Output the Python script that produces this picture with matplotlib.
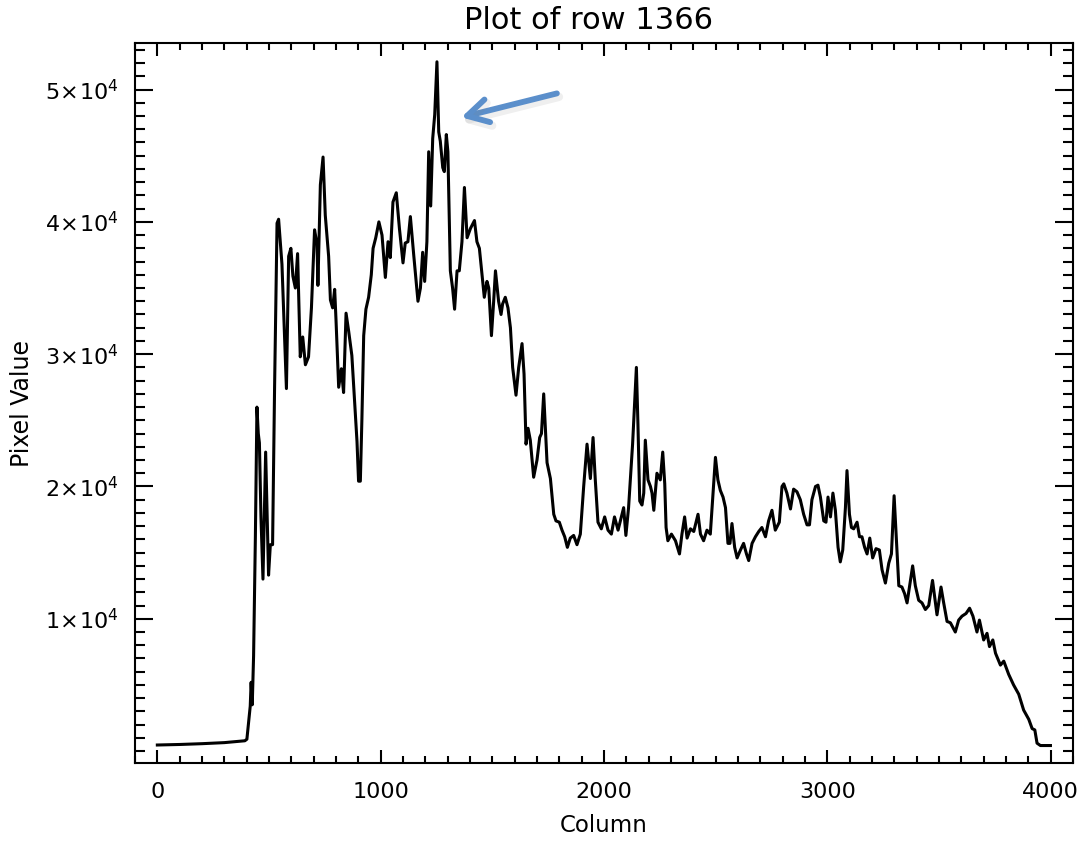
import matplotlib
matplotlib.use("Agg")
import matplotlib.pyplot as plt
import matplotlib.patheffects as pe
from matplotlib.ticker import FixedLocator, MultipleLocator, FuncFormatter

# ---- data ----
columns = [0, 100, 200, 300, 392, 401, 410, 416, 420, 425, 431, 439, 446, 452, 457, 464, 473,
           485, 498, 506, 516, 525, 536, 543, 558, 578, 588, 598, 607, 618, 628, 640, 651,
           663, 677, 690, 704, 715, 719, 730, 742, 752, 767, 775, 785, 794, 800, 812, 824,
           834, 845, 857, 871, 884, 894, 901, 909, 916, 924, 934, 946, 958, 966, 978, 992,
           1006, 1021, 1033, 1043, 1055, 1070, 1084, 1100, 1110, 1122, 1133, 1148, 1167,
           1178, 1188, 1197, 1207, 1215, 1224, 1233, 1242, 1252, 1260, 1267, 1278, 1285,
           1294, 1301, 1312, 1322, 1331, 1342, 1352, 1364, 1375, 1387, 1402, 1420, 1431,
           1442, 1454, 1464, 1476, 1484, 1496, 1506, 1514, 1528, 1539, 1546, 1558, 1570,
           1581, 1591, 1606, 1618, 1633, 1642, 1651, 1660, 1670, 1685, 1700, 1712, 1720,
           1730, 1737, 1745, 1760, 1775, 1785, 1800, 1812, 1824, 1836, 1849, 1864, 1879,
           1894, 1909, 1924, 1939, 1951, 1961, 1973, 1988, 2003, 2018, 2033, 2047, 2063,
           2076, 2088, 2098, 2110, 2128, 2137, 2145, 2152, 2160, 2170, 2178, 2185, 2197,
           2208, 2215, 2223, 2237, 2252, 2263, 2272, 2278, 2286, 2302, 2320, 2338, 2349,
           2361, 2372, 2387, 2402, 2421, 2432, 2446, 2461, 2476, 2487, 2499, 2510, 2521,
           2533, 2544, 2555, 2564, 2573, 2585, 2596, 2611, 2625, 2638, 2648, 2663, 2678,
           2693, 2707, 2723, 2737, 2752, 2767, 2785, 2797, 2805, 2819, 2835, 2849, 2864,
           2879, 2894, 2909, 2920, 2931, 2947, 2958, 2969, 2984, 2994, 3003, 3014, 3025,
           3036, 3048, 3058, 3069, 3081, 3088, 3099, 3108, 3118, 3133, 3144, 3155, 3167,
           3178, 3190, 3203, 3218, 3233, 3245, 3260, 3275, 3287, 3299, 3307, 3320, 3334,
           3346, 3357, 3372, 3382, 3394, 3409, 3424, 3439, 3454, 3471, 3491, 3509, 3521,
           3536, 3551, 3573, 3588, 3603, 3621, 3637, 3652, 3670, 3681, 3700, 3715, 3726,
           3741, 3753, 3775, 3790, 3812, 3834, 3857, 3879, 3902, 3917, 3929, 3939, 3954,
           3984, 3999]
pixel_values = [460, 500, 560, 640, 780, 900, 2400, 3400, 5200, 3500, 7200, 16200, 26000, 24000,
                23300, 17700, 13000, 22600, 13300, 15600, 15600, 27500, 39900, 40200, 36800,
                27400, 37400, 38000, 35900, 35000, 37600, 29800, 31300, 29200, 29800, 33500,
                39400, 38300, 35200, 42800, 44900, 40500, 37400, 34100, 33500, 34900, 32600,
                27500, 28900, 27100, 33100, 31700, 29900, 26200, 23400, 20400, 20400, 25100,
                31400, 33400, 34300, 36000, 38000, 38800, 40000, 39000, 35800, 38500, 37300,
                41500, 42200, 39500, 36900, 38400, 38500, 40400, 37500, 34000, 35000, 37700,
                35500, 38500, 45300, 41200, 46300, 48100, 52100, 46800, 46100, 44100, 43800,
                46600, 45300, 36300, 35000, 33400, 36300, 36300, 38500, 42600, 38800, 39500,
                40100, 38500, 38000, 36000, 34300, 35500, 35000, 31400, 34000, 36300, 34000,
                33000, 33800, 34300, 33500, 32000, 29000, 26900, 29000, 30800, 28500, 23200,
                24400, 23500, 20700, 22000, 23700, 24000, 27000, 24500, 21800, 20600, 17900,
                17400, 17300, 16700, 16200, 15400, 16100, 16300, 15600, 16400, 20000, 23200,
                20600, 23700, 20500, 17300, 16800, 17700, 16700, 16400, 17700, 16700, 17600,
                18400, 16300, 18400, 23200, 26200, 29000, 24700, 18900, 18600, 19500, 23500,
                20500, 20000, 19500, 18200, 21000, 20500, 22600, 20200, 16900, 15900, 16400,
                15900, 14900, 16400, 17700, 16100, 16800, 16600, 17900, 16400, 15900, 16700,
                16400, 19200, 22200, 20500, 19700, 19200, 18400, 15700, 15700, 17200, 15400,
                14600, 15200, 15700, 14900, 14400, 15700, 16200, 16600, 16900, 16200, 17400,
                18200, 16700, 17300, 20000, 20200, 19500, 18300, 19800, 19600, 19000, 17900,
                17100, 17100, 19000, 20000, 20100, 19200, 17400, 17300, 19200, 17700, 19500,
                18200, 15400, 14300, 15200, 18400, 21200, 17900, 16900, 16800, 17300, 16200,
                16200, 15400, 14900, 16100, 14600, 15300, 15200, 13700, 12700, 14200, 14900,
                19300, 16700, 12500, 12400, 11900, 11200, 12900, 14000, 12500, 11400, 11200,
                10700, 11000, 12900, 10300, 12400, 11200, 9800, 9700, 9000, 9900, 10200, 10400,
                10800, 10200, 9000, 9900, 8400, 8900, 7900, 8400, 7400, 6500, 6800, 5800, 5000,
                4300, 3100, 2400, 1700, 1600, 600, 420, 420, 420]

x_major_ticks = [0, 1000, 2000, 3000, 4000]
y_major_ticks = [10000, 20000, 30000, 40000, 50000]
title_text = "Plot of row 1366"
x_label = "Column"
y_label = "Pixel Value"

# arrow annotation (data coordinates)
arrow_tip = (1361, 47900)
arrow_tail = (1789, 49710)

# ---- figure ----
plt.rcParams['font.family'] = ['DejaVu Sans']
plt.rcParams['mathtext.fontset'] = 'dejavusans'

W, H = 1091, 841
fig = plt.figure(figsize=(W / 100, H / 100), dpi=100)
ax = fig.add_axes([135 / W, (H - 763) / H, (1073 - 135) / W, (763 - 43) / H])

ax.plot(columns, pixel_values, color='black', lw=2.2, solid_joinstyle='round')

ax.set_xlim(-100, 4100)
ax.set_ylim(-900, 53520)

ax.xaxis.set_major_locator(FixedLocator(x_major_ticks))
ax.xaxis.set_minor_locator(MultipleLocator(100))
ax.yaxis.set_major_locator(FixedLocator(y_major_ticks))
ax.yaxis.set_minor_locator(MultipleLocator(1000))
ax.xaxis.set_major_formatter(FuncFormatter(lambda v, p: f"{int(v)}"))
ax.yaxis.set_major_formatter(FuncFormatter(lambda v, p: r"$%d\!\times\!10^{4}$" % int(round(v / 1e4))))

for s in ax.spines.values():
    s.set_linewidth(1.5)

ax.tick_params(axis='x', which='major', direction='in', length=9.5, width=1.5,
               top=True, bottom=True, labelsize=16, pad=14)
ax.tick_params(axis='x', which='minor', direction='in', length=5, width=1.5,
               top=True, bottom=True)
ax.tick_params(axis='y', which='major', direction='in', length=13, width=1.5,
               left=True, right=True, labelsize=16, pad=12)
ax.tick_params(axis='y', which='minor', direction='in', length=7, width=1.5,
               left=True, right=True)

ax.set_title(title_text, fontsize=22, pad=10, x=(589 - 135) / (1073 - 135))
ax.set_xlabel(x_label, fontsize=16.5, labelpad=8)
ax.set_ylabel(y_label, fontsize=17, labelpad=8)

ann = ax.annotate("", xy=arrow_tip, xytext=arrow_tail,
                  arrowprops=dict(arrowstyle='->, head_length=0.75, head_width=0.42',
                                  color='#5b8fcb', lw=4.2, mutation_scale=20,
                                  shrinkA=0, shrinkB=0))
ann.arrow_patch.set_path_effects([
    pe.SimpleLineShadow(offset=(1.5, -2.5), shadow_color='gray', alpha=0.12, linewidth=6),
    pe.Normal()])

fig.savefig("out.png", dpi=100)
